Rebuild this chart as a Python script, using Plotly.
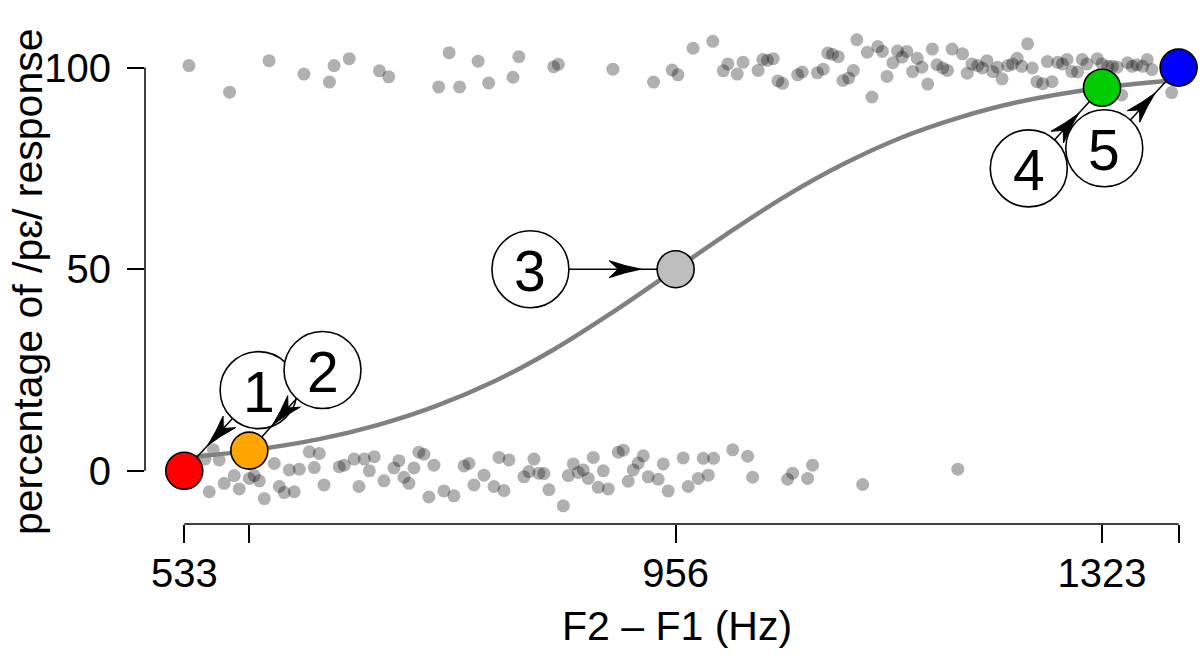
import math
import plotly.graph_objects as go

# ---- data -----------------------------------------------------------------
# jittered individual responses near 100 (/pɛ/ responses)
top_x = [537, 572, 606, 636, 658, 662, 675, 701, 709, 752, 761, 770, 786, 795,
         821, 816, 851, 855, 902, 937, 971, 988, 953, 958, 1001, 997, 1014, 1009,
         1027, 1031, 1035, 1040, 1044, 1048, 1061, 1065, 1078, 1083, 1087, 1091,
         1096, 1100, 1105,
         1112, 1121, 1130, 1134, 1109, 1143, 1147, 1151, 1155, 1164, 1138, 1160,
         1168, 1173, 1177, 1125, 1181, 1186, 1190, 1194, 1203, 1207, 1211, 1216,
         1220, 1224, 1229, 1233, 1237, 1242, 1246, 1250, 1254, 1259, 1263, 1267,
         1272, 1276, 1280, 1285, 1289, 1293, 1297, 1302, 1306, 1310, 1319, 1323,
         1328, 1332, 1336, 1345, 1349, 1353, 1358, 1362, 1366, 1340, 1383]
top_y = [100.5, 93.9, 101.7, 98.4, 96.4, 100.5, 102.2, 99.2, 97.7, 95.2, 103.7, 95.2, 101.6, 96.2,
         102.7, 97.6, 100.2, 100.8, 99.6, 96.4, 104.8, 106.5, 99.4, 98.2, 100.9, 99.2, 101.3, 98.4,
         99.3, 102.0, 101.8, 102.2, 96.7, 96.1, 98.2, 98.9, 98.7, 99.6, 103.6, 103.3,
         102.7, 96.8, 97.4,
         106.9, 103.8, 105.2, 104.0, 99.3, 101.2, 104.1, 102.6, 104.0, 102.3, 97.8, 99.0,
         100.1, 95.9, 104.6, 92.7, 100.7, 99.9, 99.3, 104.6, 103.4, 98.6, 100.9, 100.5,
         99.9, 101.7, 99.0, 100.1, 97.2, 100.5, 100.9, 102.3, 100.3, 105.9, 99.9, 96.5,
         96.0, 101.5, 96.5, 101.3, 100.9, 102.0, 99.0, 98.9, 102.0, 100.9, 102.2, 100.9,
         100.3, 100.3, 100.1, 101.2, 100.3, 100.7, 100.3, 102.0, 99.5, 93.2, 93.8]

# jittered individual responses near 0
bot_x = [558, 550.8, 563.1, 554.5, 567.4, 576, 580.3, 589, 593.3, 597.6, 601.9, 610.5,
         614.8, 619.1, 627.7, 623.4, 632, 640.6, 649.2, 644.9, 653.3, 666.4, 670.7, 679.3,
         688, 696.6, 692.3, 683.4, 704.9, 713.5, 717.8, 722.1, 726.4, 730.7, 735, 739.3,
         747.9, 743.6, 756.5, 765.1, 773.8, 778.1, 782.4, 791, 799.6, 808.2, 803.9, 812.5,
         825.4, 829.7, 834, 838.3, 842.6, 846.9, 859.3, 863.6,
         867.9, 872.2, 876.5, 880.8, 885.1, 889.4, 893.7, 898, 906.6, 910.9, 915.2, 919.5,
         923.8, 928.1, 932.4, 941, 945.3, 949.6, 962.5, 966.8, 975.5, 979.8, 984.1, 988.7,
         1005.1, 1018, 1022.3, 1052.4, 1056.7, 1069.6, 1073.9, 1117, 1198.9]
bot_y = [5.2, 2.9, 2.7, -5.2, -3.1, -1.2, -4.5, -1.9, -1.2, -2.5, -6.9, 1.8,
         -3.9, -5.4, -5.2, 0.2, 0.4, 4.7, 4.3, 0.8, -3.5, 1.0, 1.4, 2.9,
         2.9, 3.5, 0.0, -3.9, -2.5, 0.7, 2.5, -1.6, -3.1, 0.7, 4.6, 4.1,
         1.4, -6.5, -5.0, -6.2, 1.2, 1.8, -3.5, -1.1, -3.9, -4.9, 3.3, 2.7,
         -1.5, -0.2, 2.9, -0.6, -0.7, -4.7, -8.7, -1.2,
         1.7, -0.4, 0.2, -1.9, 3.3, -4.1, 0.0, -4.5, 4.6, 5.1, -2.6, 0.2,
         1.9, 3.7, -1.5, -2.1, 1.7, -5.0, 3.2, -3.9, -1.9, 3.1, -1.1, 3.1,
         5.2, 3.6, -1.6, -2.1, -0.6, -1.9, 1.4, -3.4, 0.4]

# fitted response curve
curve_x = [533, 589, 650, 700, 750, 800, 850, 900, 956, 1000, 1050, 1100, 1150, 1200, 1250, 1323, 1389]
curve_y = [3.2, 5.0, 7.9, 11.4, 16.1, 22.2, 29.9, 39.0, 50.0, 58.7, 68.0, 76.0, 82.6, 87.6, 91.4, 95.0, 96.9]

# highlighted stimuli
stim_x = [533, 589, 956, 1323, 1389]
stim_y = [0, 5, 50, 95, 100]
stim_colors = ["#FF0000", "#FFA500", "#BEBEBE", "#00CD00", "#0000FF"]

# numbered call-outs
label_text = ["1", "2", "3", "4", "5"]
label_x = [597, 652, 831, 1260, 1325]
label_y = [20, 25, 50, 75, 80]

xtick_vals = [533, 589, 956, 1323, 1389]
xtick_text = ["533", "", "956", "1323", ""]
ytick_vals = [0, 50, 100]
ytick_text = ["0", "50", "100"]

# ---- layout geometry ------------------------------------------------------
W, H = 1202, 662
M = dict(l=145, r=2, t=20, b=138)
X_RANGE = [499.2, 1407.4]
Y_RANGE = [-13.2, 111.8]
FONT = "Liberation Sans, Arial, Helvetica, sans-serif"
SX = (W - M["l"] - M["r"]) / (X_RANGE[1] - X_RANGE[0])   # px per x unit
SY = (H - M["t"] - M["b"]) / (Y_RANGE[1] - Y_RANGE[0])   # px per y unit

STIM_SIZE = 37
LABEL_SIZE = 77

fig = go.Figure()

fig.add_trace(go.Scatter(
    x=top_x + bot_x, y=top_y + bot_y, mode="markers",
    marker=dict(size=13, color="rgba(0,0,0,0.31)", line=dict(width=0)),
    hoverinfo="skip", showlegend=False))

fig.add_trace(go.Scatter(
    x=curve_x, y=curve_y, mode="lines",
    line=dict(color="#808080", width=4.5, shape="spline", smoothing=1.0),
    hoverinfo="skip", showlegend=False))

fig.add_trace(go.Scatter(
    x=stim_x, y=stim_y, mode="markers",
    marker=dict(size=STIM_SIZE, color=stim_colors, line=dict(width=1.6, color="black")),
    cliponaxis=False, hoverinfo="skip", showlegend=False))

fig.add_trace(go.Scatter(
    x=label_x, y=label_y, mode="markers",
    marker=dict(size=LABEL_SIZE, color="white", line=dict(width=1.6, color="black")),
    cliponaxis=False, hoverinfo="skip", showlegend=False))

for i in range(len(label_text)):
    fig.add_annotation(x=label_x[i], y=label_y[i], text=label_text[i],
                       xref="x", yref="y", showarrow=False,
                       xanchor="center", yanchor="middle", yshift=-2,
                       font=dict(size=57, color="black", family=FONT))

# arrows from each call-out circle toward its stimulus point,
# with a stealth-style head placed a little before the point
HEAD_LEN, HEAD_HALF, GAP = 32, 8.5, 16
for i in range(len(stim_x)):
    # work in pixel-scaled space (y up)
    cx, cy = label_x[i] * SX, label_y[i] * SY
    px, py = stim_x[i] * SX, stim_y[i] * SY
    dx, dy = px - cx, py - cy
    d = math.hypot(dx, dy)
    ux, uy = dx / d, dy / d
    nx, ny = -uy, ux
    sx_, sy_ = cx + ux * LABEL_SIZE / 2, cy + uy * LABEL_SIZE / 2
    ex_, ey_ = px - ux * STIM_SIZE / 2, py - uy * STIM_SIZE / 2
    tx, ty = ex_ - ux * GAP, ey_ - uy * GAP
    bx, by = tx - ux * HEAD_LEN, ty - uy * HEAD_LEN
    nx_, ny_ = tx - ux * HEAD_LEN * 0.72, ty - uy * HEAD_LEN * 0.72

    def P(a, b):
        return f"{a / SX:.4f},{b / SY:.4f}"

    fig.add_shape(type="path", xref="x", yref="y", layer="above",
                  path=f"M{P(sx_, sy_)} L{P(ex_, ey_)}",
                  line=dict(color="black", width=1.5))
    head = (f"M{P(tx, ty)} "
            f"Q{P(tx - ux * HEAD_LEN * 0.5 + nx * HEAD_HALF * 0.35, ty - uy * HEAD_LEN * 0.5 + ny * HEAD_HALF * 0.35)} "
            f"{P(bx + nx * HEAD_HALF, by + ny * HEAD_HALF)} "
            f"L{P(nx_, ny_)} "
            f"L{P(bx - nx * HEAD_HALF, by - ny * HEAD_HALF)} "
            f"Q{P(tx - ux * HEAD_LEN * 0.5 - nx * HEAD_HALF * 0.35, ty - uy * HEAD_LEN * 0.5 - ny * HEAD_HALF * 0.35)} "
            f"{P(tx, ty)} Z")
    fig.add_shape(type="path", xref="x", yref="y", layer="above", path=head,
                  fillcolor="black", line=dict(color="black", width=1))


def xfrac(v):
    return (v - X_RANGE[0]) / (X_RANGE[1] - X_RANGE[0])


def yfrac(v):
    return (v - Y_RANGE[0]) / (Y_RANGE[1] - Y_RANGE[0])


# R-style detached axis lines (only spanning the tick range)
fig.add_shape(type="line", xref="paper", yref="paper",
              x0=xfrac(min(xtick_vals)), x1=xfrac(max(xtick_vals)), y0=0, y1=0,
              line=dict(color="black", width=1.5))
fig.add_shape(type="line", xref="paper", yref="paper",
              x0=0, x1=0, y0=yfrac(min(ytick_vals)), y1=yfrac(max(ytick_vals)),
              line=dict(color="black", width=1.5))

fig.add_annotation(text="F2 \u2013 F1 (Hz)", xref="paper", yref="paper",
                   x=0.504, y=0, yshift=-102, xanchor="center", yanchor="middle",
                   showarrow=False, font=dict(size=41, color="black", family=FONT))
fig.add_annotation(text="percentage of /p\u025b/ response", xref="paper", yref="paper",
                   x=0, y=0.48, xshift=-117, xanchor="center", yanchor="middle",
                   textangle=-90, showarrow=False,
                   font=dict(size=41, color="black", family=FONT))

fig.update_layout(
    width=W, height=H,
    margin=M,
    paper_bgcolor="white", plot_bgcolor="white",
    font=dict(family=FONT, size=40, color="black"),
    xaxis=dict(range=X_RANGE, tickvals=xtick_vals, ticktext=xtick_text,
               ticks="outside", ticklen=18, tickwidth=1.5, tickcolor="black",
               ticklabelstandoff=-4,
               showline=False, showgrid=False, zeroline=False,
               tickfont=dict(size=40, family=FONT, color="black")),
    yaxis=dict(range=Y_RANGE, tickvals=ytick_vals, ticktext=ytick_text,
               ticks="outside", ticklen=17, tickwidth=1.5, tickcolor="black",
               ticklabelstandoff=8,
               showline=False, showgrid=False, zeroline=False,
               tickfont=dict(size=40, family=FONT, color="black")),
)

fig.write_html("out.html", config={"displayModeBar": False},
               post_script="document.body.style.margin='0';document.body.style.overflow='hidden';")
